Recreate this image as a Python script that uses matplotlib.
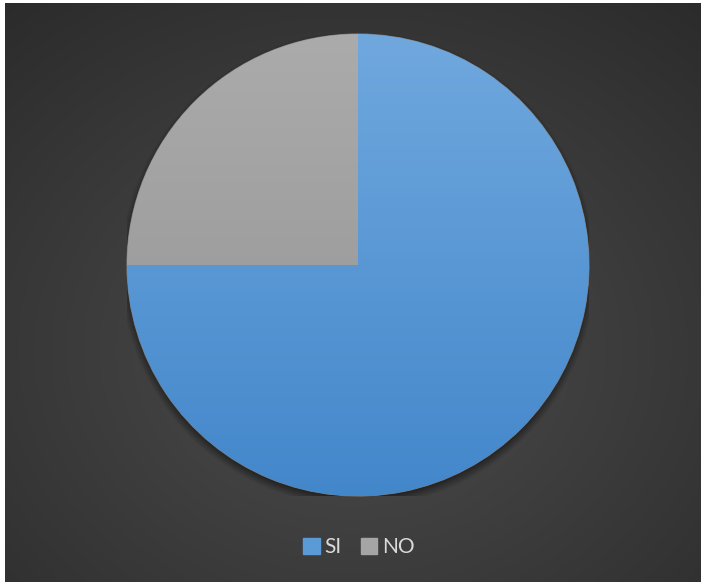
import numpy as np
import matplotlib.pyplot as plt
from matplotlib.colors import to_rgb
from matplotlib.patches import Rectangle

labels = ['SI', 'NO']
values = [75, 25]
top_colors = ['#70a8de', '#ababab']
bottom_colors = ['#4387cb', '#929292']

W, H = 704, 585
fig = plt.figure(figsize=(W / 100, H / 100), dpi=100)
fig.patch.set_facecolor('white')

# dark background panel with a soft radial light
bg = fig.add_axes([5 / W, 3 / H, 696 / W, 579 / H])
bg.set_axis_off()
yy, xx = np.mgrid[0:1:300j, 0:1:360j]
r = np.sqrt(((xx - 0.5) / 0.75) ** 2 + ((yy - 0.40) / 0.75) ** 2)
shade = np.clip(0.30 - 0.125 * r, 0.16, 0.30)
bg.imshow(np.dstack([shade] * 3), extent=[0, 1, 0, 1], aspect='auto', origin='lower')
bg.set_xlim(0, 1)
bg.set_ylim(0, 1)

# pie area: center (358, 265) px, radius 231 px
cx, cy, rad = 358, 265, 231
ax = fig.add_axes([(cx - rad) / W, (H - cy - rad) / H, 2 * rad / W, 2 * rad / H])
ax.set_axis_off()

# soft shadow under the pie
sy, sx = np.mgrid[-1.1:1.1:500j, -1.1:1.1:500j]
d = np.sqrt(sx ** 2 + (sy + 0.018) ** 2)
alpha = np.clip((1.03 - d) / 0.05, 0, 1) * 0.55
shadow = np.zeros((500, 500, 4))
shadow[..., 3] = alpha
ax.imshow(shadow, extent=[-1.1, 1.1, -1.1, 1.1], origin='lower', zorder=0)

wedges, _ = ax.pie(values, startangle=90, counterclock=False, radius=1,
                   colors=top_colors, wedgeprops=dict(linewidth=0.8, edgecolor='#7a7a7a'))

# vertical gradient fill clipped to each wedge
gy = np.linspace(0, 1, 256)[:, None]
for w, c0, c1 in zip(wedges, top_colors, bottom_colors):
    a = np.array(to_rgb(c1))
    b = np.array(to_rgb(c0))
    img = a[None, None, :] * (1 - gy[..., None]) + b[None, None, :] * gy[..., None]
    img = np.repeat(img, 4, axis=1)
    im = ax.imshow(img, extent=[-1, 1, -1, 1], origin='lower', zorder=w.get_zorder() + 0.1,
                   aspect='auto')
    im.set_clip_path(w)
ax.set_xlim(-1, 1)
ax.set_ylim(-1, 1)
ax.set_aspect('equal')

# legend
handles = [Rectangle((0, 0), 1, 1, color=c) for c in ['#5b9bd5', '#a5a5a5']]
leg = fig.legend(handles, labels, loc='center', bbox_to_anchor=(359 / W, 1 - 547 / H),
                 ncol=2, frameon=False, handlelength=0.8, handleheight=0.8,
                 handletextpad=0.25, columnspacing=0.9,
                 prop={'family': 'Lato', 'size': 15})
for t in leg.get_texts():
    t.set_color('#d9d9d9')

fig.savefig('out.png', dpi=100, facecolor='white')
